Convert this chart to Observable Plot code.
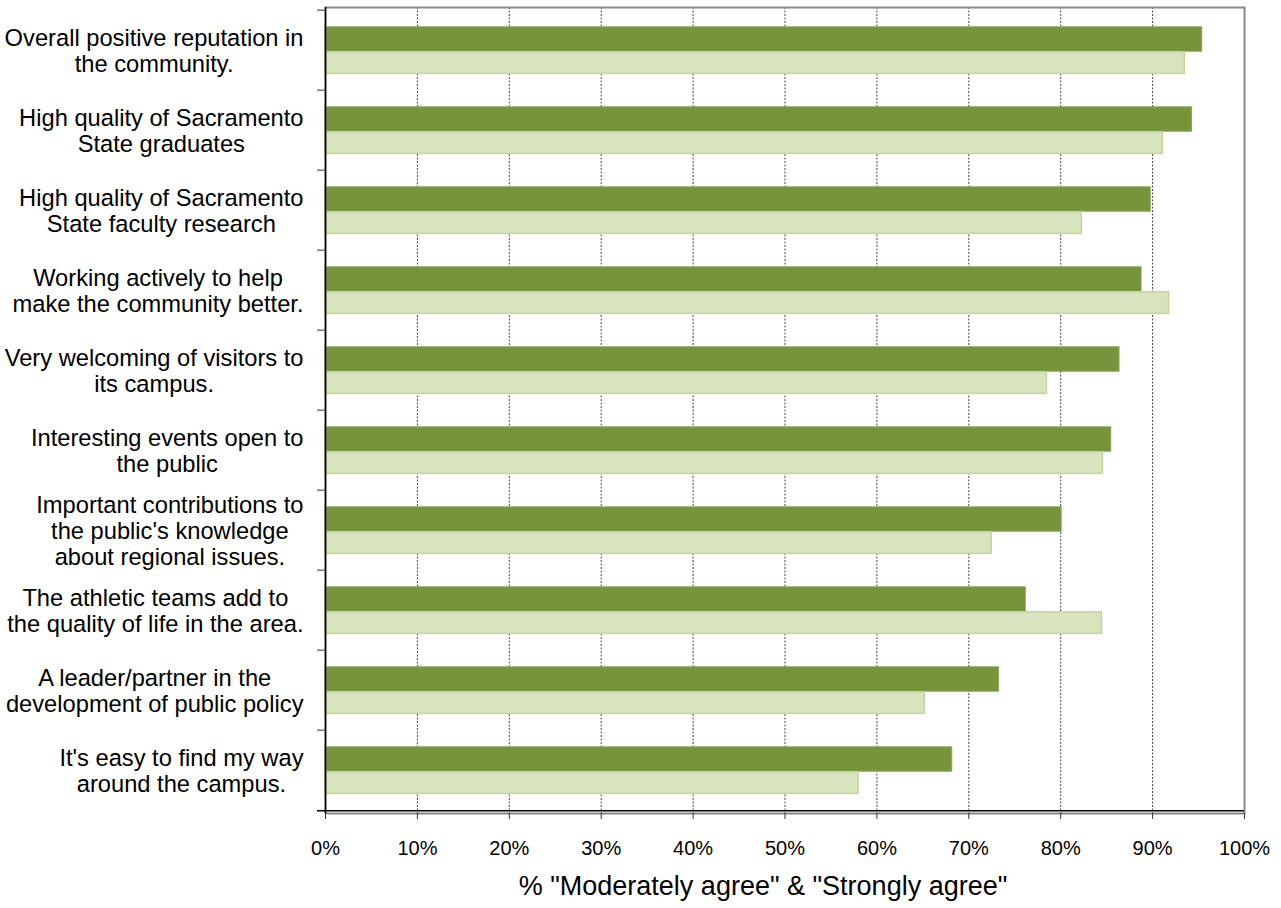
<!DOCTYPE html>
<html>
<head>
<meta charset="utf-8">
<script src="https://cdn.jsdelivr.net/npm/d3@7"></script>
<script src="https://cdn.jsdelivr.net/npm/@observablehq/plot@0.6"></script>
<style>
  body { margin: 0; background: #fff; }
  #chart svg { display: block; }
</style>
</head>
<body>
<div id="chart"></div>
<script>
// ---- data ----
const categories = [
  "Overall positive reputation in\nthe community.",
  "High quality of Sacramento\nState graduates",
  "High quality of Sacramento\nState faculty research",
  "Working actively to help\nmake the community better.",
  "Very welcoming of visitors to\nits campus.",
  "Interesting events open to\nthe public",
  "Important contributions to\nthe public's knowledge\nabout regional issues.",
  "The athletic teams add to\nthe quality of life in the area.",
  "A leader/partner in the\ndevelopment of public policy",
  "It's easy to find my way\naround the campus."
];
const darkSeries = [0.954, 0.943, 0.898, 0.888, 0.864, 0.855, 0.801, 0.762, 0.733, 0.682];
const lightSeries = [0.935, 0.911, 0.823, 0.918, 0.785, 0.846, 0.725, 0.845, 0.652, 0.580];
const xTicks = [0, 0.1, 0.2, 0.3, 0.4, 0.5, 0.6, 0.7, 0.8, 0.9, 1.0];
const gridTicks = [0.1, 0.2, 0.3, 0.4, 0.5, 0.6, 0.7, 0.8, 0.9];
const xTitle = '% "Moderately agree" & "Strongly agree"';

// ---- layout / style ----
const W = 1281, H = 908;
const mTop = 7, mBottom = 95, mLeft = 325, mRight = 37;
const bandH = (H - mTop - mBottom) / categories.length;
const font = "'Liberation Sans', Arial, Helvetica, sans-serif";
const labelSize = 23.7;
const labelRight = 303;

const rows = categories.map((c, i) => ({category: c, dark: darkSeries[i], light: lightSeries[i]}));

// measure label block widths (lines centred inside a right-aligned block)
const ctx = document.createElement("canvas").getContext("2d");
ctx.font = `${labelSize}px ${font}`;
const blockW = categories.map(c => Math.max(...c.split("\n").map(l => ctx.measureText(l).width)));

const labelMarks = categories.map((c, i) =>
  Plot.text([c], {
    y: d => d, text: d => d,
    frameAnchor: "left", textAnchor: "middle",
    dx: (labelRight - mLeft) - blockW[i] / 2,
    fontSize: labelSize, lineHeight: 1.11, fill: "#000"
  })
);

const chart = Plot.plot({
  width: W,
  height: H,
  marginTop: mTop,
  marginBottom: mBottom,
  marginLeft: mLeft,
  marginRight: mRight,
  style: {fontFamily: font, fontSize: "20px", background: "#fff", color: "#000", overflow: "visible"},
  x: {domain: [0, 1]},
  y: {domain: categories, padding: 0, axis: null},
  marks: [
    Plot.gridX(gridTicks, {stroke: "#444", strokeOpacity: 1, strokeWidth: 1, strokeDasharray: "2,1.5"}),
    Plot.barX(rows, {y: "category", x: "dark", fill: "#77933C", stroke: "#8BA656", strokeWidth: 1,
      insetTop: 16.8, insetBottom: bandH - 16.8 - 25}),
    Plot.barX(rows, {y: "category", x: "light", fill: "#D7E4BD", stroke: "#C3D69B", strokeWidth: 1.5,
      insetTop: 41.8, insetBottom: 16.6}),
    Plot.frame({stroke: "#888", strokeWidth: 2}),
    // band boundary ticks on the y axis
    Plot.ruleY(categories, {y: d => d, dy: -bandH / 2, x1: 0, x2: 0, insetLeft: -8, stroke: "#777", strokeWidth: 1.5}),
    Plot.ruleX([0], {stroke: "#000", strokeWidth: 1.5}),
    Plot.ruleY([categories[categories.length - 1]], {y: d => d, dy: bandH / 2, insetLeft: -8, stroke: "#000", strokeWidth: 1.5}),
    Plot.axisX(xTicks, {tickFormat: d3.format(".0%"), tickSize: 6, tickPadding: 21, fontSize: 20, label: null, stroke: "#333"}),
    Plot.text([xTitle], {text: d => d, frameAnchor: "bottom", dy: 73, dx: -22, lineAnchor: "middle", fontSize: 27, fill: "#000"}),
    ...labelMarks
  ]
});
document.getElementById("chart").appendChild(chart);
</script>
</body>
</html>
